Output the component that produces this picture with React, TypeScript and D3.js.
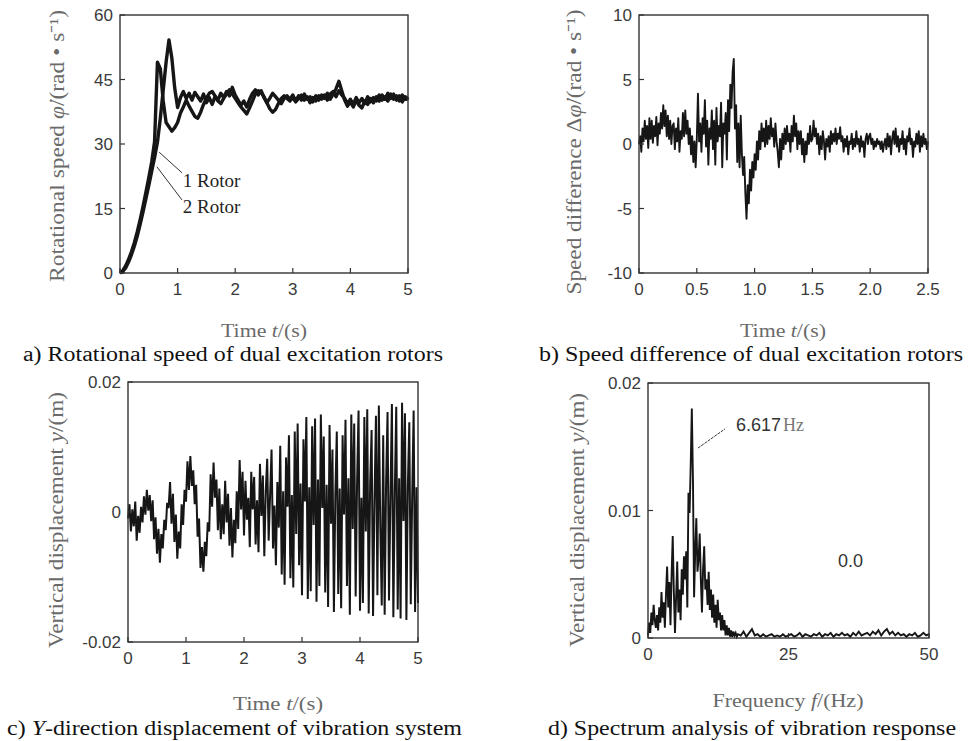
import React from 'react';
import * as d3 from 'd3';

// ---------- data ----------
// a) rotational speed (rad/s), sampled every 0.05 s from 0 to 5 s
const SAMPLE_A = 0.05;
const rotor1 = [
  0, 0.4, 1.2, 2.6, 4.3, 6.3, 8.6, 11.3, 14.2, 17.3,
  20.4, 23.6, 26.8, 30.4, 36.0, 42.5, 49.0, 54.2, 50.0, 43.0,
  38.5, 40.8, 42.2, 40.6, 41.8, 40.2, 42.0, 41.0, 40.0, 41.6,
  39.6, 40.8, 39.2, 41.0, 40.2, 41.8, 40.8, 42.2, 41.2, 43.2,
  41.4, 40.2, 39.0, 40.0, 38.6, 40.4, 41.8, 42.6, 41.4, 42.4,
  40.8, 39.6, 40.6, 41.8, 41.0, 40.2, 39.4, 40.6, 41.2, 40.4,
  41.4, 40.0, 41.2, 40.2, 41.6, 40.4, 41.0, 39.8, 41.2, 40.2,
  41.4, 40.6, 41.8, 40.4, 41.6, 42.8, 44.6, 42.4, 40.2, 38.8,
  39.8, 38.6, 40.2, 39.0, 38.4, 40.0, 39.2, 40.6, 39.6, 41.0,
  40.0, 41.4, 40.4, 41.8, 40.6, 41.6, 40.2, 41.2, 39.8, 41.0,
  40.2,
];
const rotor2 = [
  0, 0.6, 1.7, 3.2, 5.0, 7.1, 9.6, 12.4, 15.5, 18.8,
  22.2, 25.8, 30.5, 49.0, 47.5, 40.0, 35.0, 34.0, 33.0, 33.8,
  35.0, 37.2, 38.6, 40.2, 38.8, 37.6, 36.4, 36.0, 37.4, 39.2,
  40.6, 41.8, 42.2, 41.2, 40.0, 39.4, 40.6, 41.6, 42.6, 41.6,
  40.6, 39.6, 38.6, 37.8, 37.0, 38.4, 40.0, 41.6, 42.4, 42.0,
  41.0, 39.6, 38.2, 37.4, 38.0, 39.4, 40.6, 41.2, 40.6, 40.0,
  40.8, 39.8, 40.6, 41.4, 40.2, 41.0, 39.6, 40.8, 40.0, 41.2,
  40.4, 41.4, 40.2, 41.6, 42.2, 41.0, 42.4, 41.4, 40.6, 39.4,
  40.4, 39.2, 40.8, 39.6, 40.6, 39.4, 41.0, 39.8, 40.8, 40.0,
  41.4, 40.2, 41.0, 40.0, 41.6, 40.4, 41.2, 40.0, 41.4, 40.4,
  41.0,
];

// b) speed difference (rad/s), sampled every 0.01 s from 0 to 2.5 s
const SAMPLE_B = 0.01;
const speedDiff = [
  0.0, 0.6, -0.6, 1.2, 0.2, 1.8, 0.4, 1.4, -0.3, 2.0,
  0.4, 1.8, 0.1, 1.4, 0.6, 2.1, -0.1, 1.6, 0.8, 2.4,
  1.2, 3.0, 1.4, 2.6, 0.6, 2.2, 0.4, 1.8, 0.0, 1.4,
  1.6, -0.4, 1.2, 0.2, 2.0, -0.6, 1.0, 0.4, 2.4, 0.6,
  2.6, 0.8, 1.8, 0.0, 1.2, -0.8, 0.6, -1.4, 0.2, -1.8,
  0.4, 3.9, 0.2, 1.6, -0.6, 2.0, 0.8, 3.4, -0.2, 1.8,
  -1.6, 1.2, 0.4, 2.6, -0.4, 1.8, -1.6, 2.8, 0.2, 1.4,
  0.6, 3.2, -1.8, 1.6, 0.8, 2.4, -1.2, 3.4, 1.0, 4.6,
  2.8, 5.6, 6.6, 1.2, 3.0, -1.4, 1.6, -1.8, 2.2, -0.8,
  -2.4, -1.0, -3.8, -5.8, -3.2, -4.6, -2.0, -3.6, -1.4, -2.6,
  -0.8, -2.0, 0.2, -1.2, 1.0, -0.4, 1.6, 0.2, 1.2, -0.2,
  1.8, 0.0, 1.4, 0.4, 2.0, 0.6, 1.2, -0.2, 1.6, 0.2,
  -0.6, -1.8, 0.4, -1.2, 0.8, -0.4, 1.2, 0.0, 1.4, 0.2,
  0.8, -0.6, 1.4, 0.2, 2.2, 0.6, 1.6, -0.4, 1.0, 0.0,
  1.0, -0.8, 0.4, -1.4, 0.2, -0.8, 0.8, 0.0, 1.4, 0.2,
  0.4, 1.8, 0.6, 1.2, 0.0, 0.8, -0.8, 0.6, -0.4, 1.0,
  0.2, -1.2, 0.4, -0.2, 0.6, -0.6, 1.0, 0.0, 0.8, 0.2,
  1.2, 0.0, 0.8, 0.4, 1.3, 0.2, 0.6, -0.6, 0.4, -0.2,
  0.6, -0.8, 0.2, 0.0, 0.8, -0.4, 0.4, -0.2, 1.0, 0.0,
  0.4, -0.6, 0.6, -0.2, 0.2, -1.0, 0.4, 0.8, 0.0, 0.6,
  0.8, 0.0, 0.4, -0.4, 0.2, -0.2, 0.4, 0.0, 0.2, -0.4,
  0.2, -0.6, 0.0, 0.4, -0.4, 0.8, -0.2, 0.6, -0.8, 0.4,
  1.0, 0.0, 1.2, -0.2, 0.6, -0.6, 0.4, 0.0, 1.0, -0.4,
  0.4, -0.8, 0.6, 0.2, 1.2, 0.0, 0.4, -1.0, 0.2, -0.2,
  0.8, 0.0, 1.0, -0.6, 0.6, -0.2, 0.8, 0.0, 0.4, -0.4, 0.2,
];

// c) vertical displacement (mm), sampled every 0.025 s from 0 to 5 s
const SAMPLE_C = 0.025;
const displacementMM = [
  -1.0, 1.2, -3.0, 0.4, -2.2, 1.6, -4.4, -0.6,
  -3.2, 0.8, -1.6, 2.4, -0.4, 3.4, 0.2, 2.6,
  -1.4, 1.8, -4.2, -0.8, -6.4, -2.6, -7.8, -3.4,
  -5.6, -1.2, -2.8, 1.4, 0.6, 4.6, -1.8, 2.8,
  -4.6, -0.4, -7.2, -3.0, -5.6, 1.2, -2.0, 3.4,
  1.6, 7.8, 3.4, 8.6, 4.0, 6.4, 1.2, 4.2,
  -3.8, -1.0, -8.6, -5.4, -9.2, -4.6, -6.8, -1.6,
  -3.0, 5.8, 0.8, 7.6, 2.2, 5.0, -2.8, 3.6,
  -4.2, 1.2, -3.4, 4.8, -1.6, 2.8, -5.2, 0.6,
  -7.0, -1.2, -4.8, 3.2, -2.6, 8.0, 0.4, 6.2,
  -3.6, 4.8, -1.2, 2.2, -5.4, 6.2, 0.4, 5.4,
  -5.0, 1.8, -6.2, 7.4, -0.6, 5.6, -6.8, 3.2,
  8.2, -4.4, 2.6, 9.6, -5.6, 1.0, -8.2, 4.6,
  -2.4, 10.2, -9.6, 3.2, -11.2, 8.4, 0.8, 11.8,
  -10.2, 2.6, -11.6, 12.4, -3.4, 13.6, -8.2, 4.4,
  -12.8, 11.2, 1.6, 14.6, -13.4, 3.8, -12.2, 13.2,
  -2.0, 14.4, -13.8, 5.0, -11.4, 15.0, 0.6, 11.6,
  -12.4, 4.2, -14.6, 13.4, -1.8, 9.6, -15.4, 2.8,
  12.4, -12.6, 3.6, -14.8, 11.8, -0.4, 14.2, -11.4,
  5.2, -15.8, 15.0, -2.6, 13.6, -13.0, 4.8, 15.6,
  -15.2, 2.2, -14.0, 14.6, -3.0, 15.8, -15.6, 4.4,
  12.6, -16.0, 1.8, 14.8, -12.8, 16.4, -2.2, -14.4,
  11.8, -15.8, 4.6, 15.4, -13.6, 2.4, 16.6, -16.2,
  3.0, 16.2, -15.0, 5.2, -16.4, 16.8, -1.4, 15.2,
  -16.6, 4.0, 13.8, -14.2, 2.6, 15.6, -15.4, 3.8,
  -14.0,
];

// d) spectrum amplitude (mm): 0–16 Hz every 0.2 Hz, then 16.5–50 Hz every 0.5 Hz
const FREQ_STEP_LOW = 0.2;
const FREQ_HIGH_START = 16.5;
const FREQ_STEP_HIGH = 0.5;
const spectrumLowMM = [
  0.2, 1.2, 0.4, 2.0, 1.0, 2.6, 1.4, 0.8, 1.8, 0.6,
  2.4, 1.2, 3.6, 1.6, 2.8, 0.8, 3.4, 5.6, 2.4, 4.4,
  1.0, 5.0, 8.0, 3.6, 0.4, 3.2, 6.0, 2.0, 3.8, 1.4,
  5.4, 3.4, 6.4, 4.6, 6.8, 2.4, 11.4, 9.8, 13.6, 18.0,
  12.4, 3.2, 6.8, 9.4, 5.2, 6.2, 8.2, 4.6, 2.0, 5.4,
  7.2, 3.8, 4.6, 2.6, 5.2, 2.2, 3.8, 1.6, 3.4, 1.2,
  2.6, 0.8, 3.0, 1.4, 2.0, 0.6, 1.8, 0.6, 1.4, 0.2,
  1.0, 0.2, 0.8, 0.1, 0.6, 0.1, 0.5, 0.2, 0.4, 0.1,
  0.3,
];
const spectrumHighMM = [
  0.2, 0.5, 0.1, 0.4, 0.7, 0.2, 0.3, 0.1,
  0.3, 0.1, 0.2, 0.3, 0.1, 0.2, 0.1, 0.3,
  0.1, 0.2, 0.3, 0.1, 0.2, 0.4, 0.1, 0.3,
  0.2, 0.1, 0.3, 0.2, 0.4, 0.1, 0.3, 0.2,
  0.4, 0.1, 0.3, 0.2, 0.4, 0.2, 0.3, 0.1,
  0.4, 0.2, 0.5, 0.2, 0.3, 0.4, 0.2, 0.5,
  0.3, 0.6, 0.2, 0.5, 0.7, 0.3, 0.5, 0.2,
  0.4, 0.2, 0.3, 0.1, 0.3, 0.2, 0.4, 0.1,
  0.2, 0.4, 0.2, 0.3,
];

const ticksA_x = [0, 1, 2, 3, 4, 5];
const ticksA_y = [0, 15, 30, 45, 60];
const ticksB_x = [0, 0.5, 1.0, 1.5, 2.0, 2.5];
const ticksB_y = [-10, -5, 0, 5, 10];
const ticksC_x = [0, 1, 2, 3, 4, 5];
const ticksC_y = [-0.02, 0, 0.02];
const ticksD_x = [0, 25, 50];
const ticksD_y = [0, 0.01, 0.02];

// ---------- styling ----------
const SANS = "'Liberation Sans', Arial, sans-serif";
const SERIF = "'Liberation Serif', 'Times New Roman', serif";
const TICK_COLOR = '#3a3a3a';
const TITLE_COLOR = '#6a6a6a';
const LINE_COLOR = '#161616';
const FRAME_COLOR = '#333';

type Box = { l: number; r: number; t: number; b: number };

function Frame({ box, x, y, xTicks, yTicks, xFmt, yFmt }: any) {
  return (
    <g>
      <rect x={box.l} y={box.t} width={box.r - box.l} height={box.b - box.t} fill="none" stroke={FRAME_COLOR} strokeWidth={1.4} />
      {xTicks.map((t: number) => (
        <g key={'x' + t}>
          <line x1={x(t)} x2={x(t)} y1={box.b} y2={box.b - 5} stroke={FRAME_COLOR} strokeWidth={1.2} />
          <text x={x(t)} y={box.b + 22} textAnchor="middle" fontFamily={SANS} fontSize={17} fill={TICK_COLOR}>{xFmt(t)}</text>
        </g>
      ))}
      {yTicks.map((t: number) => (
        <g key={'y' + t}>
          <line x1={box.l} x2={box.l + 5} y1={y(t)} y2={y(t)} stroke={FRAME_COLOR} strokeWidth={1.2} />
          <text x={box.l - 7} y={y(t)} dy="0.36em" textAnchor="end" fontFamily={SANS} fontSize={17} fill={TICK_COLOR}>{yFmt(t)}</text>
        </g>
      ))}
    </g>
  );
}

function YTitle({ cx, cy, len, children }: any) {
  return (
    <text transform={`translate(${cx},${cy}) rotate(-90)`} textAnchor="middle" dy="0.35em" fontFamily={SERIF} fontSize={21} fill={TITLE_COLOR} textLength={len} lengthAdjust="spacingAndGlyphs">
      {children}
    </text>
  );
}

function XTitle({ cx, y, len, children }: any) {
  return (
    <text x={cx} y={y} textAnchor="middle" fontFamily={SERIF} fontSize={19} fill={TITLE_COLOR} textLength={len} lengthAdjust="spacingAndGlyphs">
      {children}
    </text>
  );
}

function Caption({ x0, y, len, children }: any) {
  return (
    <text x={x0} y={y} fontFamily={SERIF} fontSize={20} fill="#111" textLength={len} lengthAdjust="spacingAndGlyphs">
      {children}
    </text>
  );
}

export default function App() {
  const W = 972, H = 741;

  // Panel a
  const boxA: Box = { l: 120, r: 408, t: 15, b: 273 };
  const xA = d3.scaleLinear().domain([0, 5]).range([boxA.l, boxA.r]);
  const yA = d3.scaleLinear().domain([0, 60]).range([boxA.b, boxA.t]);
  const lineA = d3.line<number>().x((_, i) => xA(i * SAMPLE_A)).y((d) => yA(d));

  // Panel b
  const boxB: Box = { l: 639, r: 928, t: 15, b: 273 };
  const xB = d3.scaleLinear().domain([0, 2.5]).range([boxB.l, boxB.r]);
  const yB = d3.scaleLinear().domain([-10, 10]).range([boxB.b, boxB.t]);
  const lineB = d3.line<number>().x((_, i) => xB(i * SAMPLE_B)).y((d) => yB(d));

  // Panel c
  const boxC: Box = { l: 128, r: 418, t: 382, b: 642 };
  const xC = d3.scaleLinear().domain([0, 5]).range([boxC.l, boxC.r]);
  const yC = d3.scaleLinear().domain([-0.02, 0.02]).range([boxC.b, boxC.t]);
  const lineC = d3.line<number>().x((_, i) => xC(i * SAMPLE_C)).y((d) => yC(d / 1000));

  // Panel d
  const boxD: Box = { l: 648, r: 929, t: 383, b: 638 };
  const xD = d3.scaleLinear().domain([0, 50]).range([boxD.l, boxD.r]);
  const yD = d3.scaleLinear().domain([0, 0.02]).range([boxD.b, boxD.t]);
  const specPts: [number, number][] = [
    ...spectrumLowMM.map((v, i) => [i * FREQ_STEP_LOW, v / 1000] as [number, number]),
    ...spectrumHighMM.map((v, i) => [FREQ_HIGH_START + i * FREQ_STEP_HIGH, v / 1000] as [number, number]),
  ];
  const lineD = d3.line<[number, number]>().x((d) => xD(d[0])).y((d) => yD(d[1]));

  const intFmt = (v: number) => String(v);
  const oneDec = d3.format('.1f');
  const cFmt = (v: number) => (v === 0 ? '0' : d3.format('.2f')(v).replace('−', '-'));
  const dFmt = (v: number) => (v === 0 ? '0' : d3.format('.2f')(v));

  return (
    <svg width={W} height={H} style={{ position: 'absolute', left: 0, top: 0, background: '#fff' }}>
      <rect width={W} height={H} fill="#fff" />

      {/* ---- a ---- */}
      <path d={lineA(rotor2) || ''} fill="none" stroke={LINE_COLOR} strokeWidth={3.4} strokeLinejoin="round" />
      <path d={lineA(rotor1) || ''} fill="none" stroke={LINE_COLOR} strokeWidth={3.4} strokeLinejoin="round" />
      <Frame box={boxA} x={xA} y={yA} xTicks={ticksA_x} yTicks={ticksA_y} xFmt={intFmt} yFmt={intFmt} />
      <line x1={xA(0.68)} y1={yA(28.1)} x2={xA(1.076)} y2={yA(23.3)} stroke="#333" strokeWidth={1} />
      <line x1={xA(0.64)} y1={yA(24.7)} x2={xA(1.076)} y2={yA(17)} stroke="#333" strokeWidth={1} />
      <text x={xA(1.09)} y={yA(20)} fontFamily={SERIF} fontSize={19} fill="#222">1 Rotor</text>
      <text x={xA(1.09)} y={yA(14)} fontFamily={SERIF} fontSize={19} fill="#222">2 Rotor</text>
      <YTitle cx={57} cy={146} len={272}>
        Rotational speed <tspan fontStyle="italic">φ̇</tspan>/(rad • s⁻¹)
      </YTitle>
      <XTitle cx={264} y={337} len={86}>
        Time <tspan fontStyle="italic">t</tspan>/(s)
      </XTitle>
      <Caption x0={23} y={361} len={420}>a) Rotational speed of dual excitation rotors</Caption>

      {/* ---- b ---- */}
      <path d={lineB(speedDiff) || ''} fill="none" stroke={LINE_COLOR} strokeWidth={1.9} strokeLinejoin="round" />
      <Frame box={boxB} x={xB} y={yB} xTicks={ticksB_x} yTicks={ticksB_y} xFmt={(v: number) => (v === 0 ? '0' : oneDec(v))} yFmt={(v: number) => String(v)} />
      <YTitle cx={574} cy={152} len={285}>
        Speed difference Δ<tspan fontStyle="italic">φ̇</tspan>/(rad • s⁻¹)
      </YTitle>
      <XTitle cx={783} y={337} len={86}>
        Time <tspan fontStyle="italic">t</tspan>/(s)
      </XTitle>
      <Caption x0={539} y={361} len={424}>b) Speed difference of dual excitation rotors</Caption>

      {/* ---- c ---- */}
      <path d={lineC(displacementMM) || ''} fill="none" stroke={LINE_COLOR} strokeWidth={2.0} strokeLinejoin="miter" />
      <Frame box={boxC} x={xC} y={yC} xTicks={ticksC_x} yTicks={ticksC_y} xFmt={intFmt} yFmt={cFmt} />
      <YTitle cx={56} cy={520} len={256}>
        Vertical displacement <tspan fontStyle="italic">y</tspan>/(m)
      </YTitle>
      <XTitle cx={278} y={710} len={90}>
        Time <tspan fontStyle="italic">t</tspan>/(s)
      </XTitle>
      <Caption x0={7} y={735} len={455}>
        c) <tspan fontStyle="italic">Y</tspan>-direction displacement of vibration system
      </Caption>

      {/* ---- d ---- */}
      <path d={lineD(specPts) || ''} fill="none" stroke={LINE_COLOR} strokeWidth={1.9} strokeLinejoin="miter" />
      <Frame box={boxD} x={xD} y={yD} xTicks={ticksD_x} yTicks={ticksD_y} xFmt={intFmt} yFmt={dFmt} />
      <line x1={xD(8.9)} y1={yD(0.0149)} x2={xD(13.7)} y2={yD(0.0164)} stroke="#333" strokeWidth={1} strokeDasharray="3,1" />
      <text x={xD(15.66)} y={yD(0.0162)} fontFamily={SANS} fontSize={18} fill="#333">
        6.617<tspan fontFamily={SERIF} fill="#777" dx="2">Hz</tspan>
      </text>
      <text x={xD(33.8)} y={yD(0.0056)} fontFamily={SANS} fontSize={18} fill="#333">0.0</text>
      <YTitle cx={577} cy={520} len={254}>
        Vertical displacement <tspan fontStyle="italic">y</tspan>/(m)
      </YTitle>
      <XTitle cx={788} y={707} len={151}>
        Frequency <tspan fontStyle="italic">f</tspan>/(Hz)
      </XTitle>
      <Caption x0={548} y={735} len={408}>d) Spectrum analysis of vibration response</Caption>
    </svg>
  );
}
